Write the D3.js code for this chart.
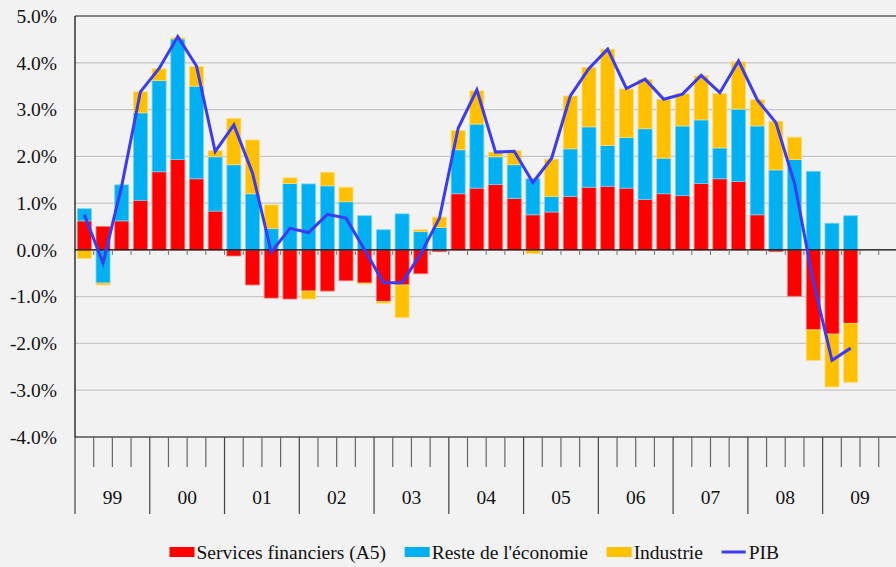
<!DOCTYPE html>
<html>
<head>
<meta charset="utf-8">
<script src="https://cdn.jsdelivr.net/npm/d3@7"></script>
<style>
  html, body { margin: 0; padding: 0; background: #f2f2f2; }
  svg { display: block; }
  text { font-family: "Liberation Serif", "Times New Roman", serif; fill: #111; }
</style>
</head>
<body>
<svg id="chart"></svg>
<script>
// years shown on the axis (each one holds 4 quarter slots)
const years = ["99", "00", "01", "02", "03", "04", "05", "06", "07", "08", "09"];
const quarters = ["T1", "T2", "T3", "T4"];

// contributions to growth, in % (1999T1 .. 2009T2)
const servicesFinanciers = [
  0.62, 0.50, 0.62, 1.06, 1.67, 1.93, 1.52, 0.83,
  -0.13, -0.75, -1.03, -1.05, -0.88, -0.88, -0.66, -0.71,
  -1.10, -0.75, -0.51, -0.04, 1.20, 1.32, 1.40, 1.10,
  0.75, 0.81, 1.14, 1.34, 1.36, 1.32, 1.08, 1.20,
  1.16, 1.42, 1.52, 1.46, 0.75, -0.04, -0.99, -1.71,
  -1.80, -1.57
];
const resteEconomie = [
  0.26, -0.71, 0.77, 1.87, 1.95, 2.58, 1.98, 1.16,
  1.82, 1.20, 0.46, 1.42, 1.41, 1.37, 1.03, 0.73,
  0.43, 0.77, 0.39, 0.48, 0.94, 1.37, 0.59, 0.72,
  0.77, 0.33, 1.02, 1.29, 0.87, 1.08, 1.51, 0.76,
  1.49, 1.36, 0.66, 1.55, 1.90, 1.71, 1.93, 1.68,
  0.57, 0.73
];
const industrie = [
  -0.18, -0.04, 0.00, 0.45, 0.25, 0.03, 0.42, 0.13,
  0.99, 1.15, 0.50, 0.12, -0.17, 0.29, 0.31, -0.02,
  -0.04, -0.70, 0.04, 0.22, 0.41, 0.71, 0.10, 0.30,
  -0.08, 0.80, 1.13, 1.27, 2.06, 1.04, 1.05, 1.26,
  0.69, 0.94, 1.16, 1.01, 0.56, 1.04, 0.48, -0.65,
  -1.13, -1.26
];
const pib = [
  0.75, -0.28, 1.37, 3.38, 3.88, 4.56, 3.93, 2.10,
  2.67, 1.64, -0.05, 0.46, 0.37, 0.76, 0.68, 0.00,
  -0.70, -0.70, -0.08, 0.68, 2.60, 3.42, 2.09, 2.11,
  1.44, 1.96, 3.29, 3.88, 4.29, 3.45, 3.65, 3.22,
  3.33, 3.73, 3.36, 4.04, 3.21, 2.72, 1.42, -0.68,
  -2.36, -2.10
];
const yTicks = [-4, -3, -2, -1, 0, 1, 2, 3, 4, 5];

const seriesNames = ["Services financiers (A5)", "Reste de l'économie", "Industrie"];
const seriesColors = ["#ff0000", "#00b0f0", "#ffc000"];
const lineColor = "#3b3bf5";
const serif = '"Liberation Serif", "Times New Roman", serif';

const width = 896, height = 567;
const margin = { left: 75, top: 16, right: 896 - 897.4, bottom: 567 - 437 };

const slots = years.flatMap((y) => quarters.map((q) => y + q));
const rows = servicesFinanciers.map((v, i) => ({
  slot: slots[i],
  sf: v,
  re: resteEconomie[i],
  ind: industrie[i],
  pib: pib[i],
}));

const svg = d3.select("#chart").attr("width", width).attr("height", height);
svg.append("rect").attr("width", width).attr("height", height).attr("fill", "#f2f2f2");

const x0 = margin.left, x1 = width - margin.right;
const yTop = margin.top, yBot = height - margin.bottom;

const xSlot = d3.scaleBand().domain(slots).range([x0, x1]);
const xBar = d3.scaleBand().domain(slots).range([x0, x1]).paddingInner(0.25).paddingOuter(0.125);
const xYear = d3.scaleBand().domain(years).range([x0, x1]);
const y = d3.scaleLinear().domain([-4, 5]).range([yBot, yTop]);

// grid lines
svg.append("g")
  .selectAll("line")
  .data(yTicks.filter((t) => t !== 0 && t !== -4))
  .join("line")
  .attr("x1", x0).attr("x2", x1)
  .attr("y1", (d) => y(d)).attr("y2", (d) => y(d))
  .attr("stroke", "#c6c6c6")
  .attr("stroke-width", 1.2);

// top border
svg.append("line")
  .attr("x1", x0).attr("x2", x1)
  .attr("y1", y(5)).attr("y2", y(5))
  .attr("stroke", "#6a6a6a").attr("stroke-width", 1.5);

// stacked bars (positive and negative parts stacked separately)
const stack = d3.stack().keys(["sf", "re", "ind"]).offset(d3.stackOffsetDiverging);
const stacked = stack(rows);

svg.append("g")
  .selectAll("g")
  .data(stacked)
  .join("g")
  .attr("fill", (d, i) => seriesColors[i])
  .attr("stroke", (d, i) => d3.interpolateRgb(seriesColors[i], "#ffffff")(0.45))
  .attr("stroke-width", 0.8)
  .selectAll("rect")
  .data((d) => d.filter((p) => p[1] !== p[0]))
  .join("rect")
  .attr("x", (d) => xBar(d.data.slot))
  .attr("width", xBar.bandwidth())
  .attr("y", (d) => y(Math.max(d[0], d[1])))
  .attr("height", (d) => Math.abs(y(d[0]) - y(d[1])));

// zero line with small quarter ticks
svg.append("line")
  .attr("x1", x0).attr("x2", x1)
  .attr("y1", y(0)).attr("y2", y(0))
  .attr("stroke", "#000").attr("stroke-width", 1.2);
svg.append("g")
  .selectAll("line")
  .data(slots.slice(1))
  .join("line")
  .attr("x1", (d) => xSlot(d)).attr("x2", (d) => xSlot(d))
  .attr("y1", y(0)).attr("y2", y(0) + 5)
  .attr("stroke", "#707070").attr("stroke-width", 1);

// y axis
const yAxis = d3.axisLeft(y)
  .tickValues(yTicks)
  .tickSize(0)
  .tickPadding(18)
  .tickFormat((d) => d.toFixed(1) + "%");
const yAxisGroup = svg.append("g")
  .attr("transform", `translate(${x0},0)`)
  .call(yAxis)
  .attr("font-family", null)
  .attr("font-size", null);
yAxisGroup.select(".domain").remove();
yAxisGroup.selectAll("text")
  .style("font-family", serif)
  .style("font-size", "19.5px")
  .style("fill", "#111");

svg.append("line")
  .attr("x1", x0).attr("x2", x0)
  .attr("y1", yTop).attr("y2", yBot)
  .attr("stroke", "#000").attr("stroke-width", 1.2);

// bottom axis: quarter and year separators
svg.append("line")
  .attr("x1", x0).attr("x2", x1)
  .attr("y1", yBot).attr("y2", yBot)
  .attr("stroke", "#000").attr("stroke-width", 1.2);

svg.append("g")
  .selectAll("line")
  .data(slots.filter((s) => !s.endsWith("T1")))
  .join("line")
  .attr("x1", (d) => xSlot(d)).attr("x2", (d) => xSlot(d))
  .attr("y1", yBot).attr("y2", yBot + 30)
  .attr("stroke", "#666").attr("stroke-width", 1.2);

svg.append("g")
  .selectAll("line")
  .data(years)
  .join("line")
  .attr("x1", (d) => xYear(d)).attr("x2", (d) => xYear(d))
  .attr("y1", yBot).attr("y2", yBot + 77)
  .attr("stroke", "#444").attr("stroke-width", 1.2);

svg.append("g")
  .selectAll("text")
  .data(years)
  .join("text")
  .attr("x", (d) => xYear(d) + xYear.bandwidth() / 2)
  .attr("y", 503.5)
  .attr("text-anchor", "middle")
  .style("font-size", "19.5px")
  .text((d) => d);

// PIB line
const line = d3.line()
  .x((d) => xBar(d.slot) + xBar.bandwidth() / 2)
  .y((d) => y(d.pib));
svg.append("path")
  .datum(rows)
  .attr("fill", "none")
  .attr("stroke", lineColor)
  .attr("stroke-width", 3)
  .attr("stroke-linejoin", "miter")
  .attr("d", line);

// legend
const legend = svg.append("g");
let lx = 169.5;
const ly = 552;
const items = seriesNames.map((n, i) => ({ name: n, color: seriesColors[i], type: "rect" }))
  .concat([{ name: "PIB", color: lineColor, type: "line" }]);
items.forEach((it) => {
  if (it.type === "rect") {
    legend.append("rect")
      .attr("x", lx).attr("y", ly - 5)
      .attr("width", 25).attr("height", 10)
      .attr("fill", it.color);
  } else {
    legend.append("line")
      .attr("x1", lx).attr("x2", lx + 24)
      .attr("y1", ly).attr("y2", ly)
      .attr("stroke", it.color).attr("stroke-width", 3);
  }
  const t = legend.append("text")
    .attr("x", lx + 27)
    .attr("y", ly + 7)
    .style("font-size", "19.5px")
    .text(it.name);
  lx += 27 + t.node().getComputedTextLength() + 18.7;
});
</script>
</body>
</html>
